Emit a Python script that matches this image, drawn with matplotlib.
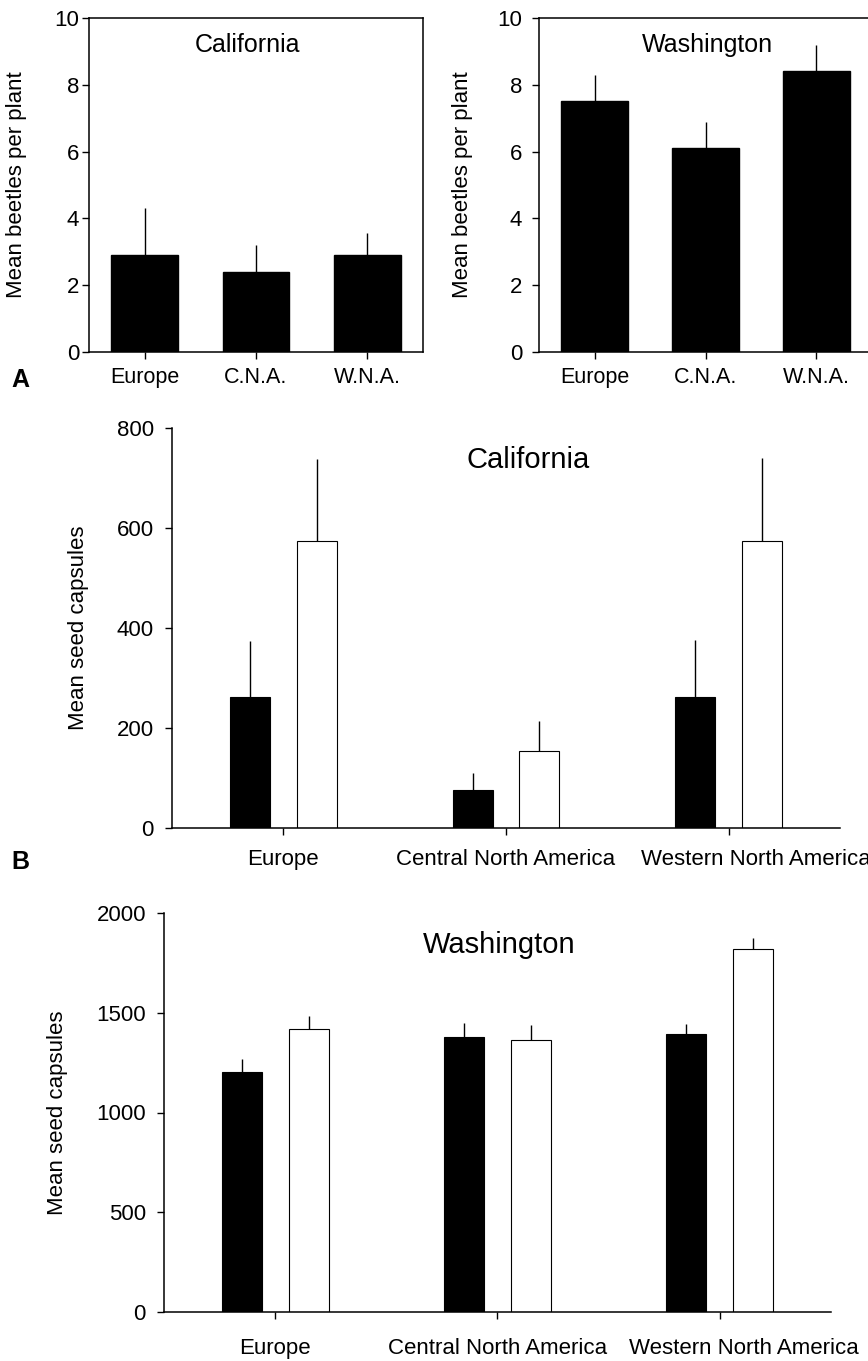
import numpy as np
import matplotlib
matplotlib.use('Agg')
import matplotlib.pyplot as plt
from matplotlib.transforms import ScaledTranslation

plt.rcParams['font.family'] = ['Liberation Sans', 'DejaVu Sans']

# data
short_names = ['Europe', 'C.N.A.', 'W.N.A.']
long_names = ['Europe', 'Central North America', 'Western North America']

beetles_ca = [2.9, 2.4, 2.9]
beetles_ca_se = [1.4, 0.8, 0.65]
beetles_wa = [7.5, 6.1, 8.4]
beetles_wa_se = [0.8, 0.8, 0.8]

seeds_ca_black = [262, 76, 262]
seeds_ca_black_se = [112, 34, 114]
seeds_ca_white = [574, 154, 574]
seeds_ca_white_se = [164, 60, 166]

seeds_wa_black = [1205, 1380, 1395]
seeds_wa_black_se = [65, 70, 50]
seeds_wa_white = [1420, 1365, 1820]
seeds_wa_white_se = [65, 75, 55]

W, H = 868, 1361
fig = plt.figure(figsize=(W / 100, H / 100), dpi=100)


def px_axes(x0, x1, y0, y1):
    return fig.add_axes([x0 / W, 1 - y1 / H, (x1 - x0) / W, (y1 - y0) / H])


def up_err(se):
    return [np.zeros(len(se)), se]


err_kw = dict(ecolor='black', elinewidth=1.0, capsize=0)


def beetle_panel(ax, vals, se, title, title_x, ylab_x, ypad):
    x = np.arange(len(vals))
    ax.bar(x, vals, width=0.6, color='black', edgecolor='black',
           yerr=up_err(se), error_kw=err_kw, zorder=2)
    ax.set_xlim(-0.5, 2.5)
    ax.set_ylim(0, 10)
    ax.set_yticks([0, 2, 4, 6, 8, 10])
    ax.set_xticks(x)
    ax.set_xticklabels(short_names)
    for s in ax.spines.values():
        s.set_linewidth(1.1)
    ax.tick_params(axis='x', length=5, width=1.0, labelsize=15.5, pad=6)
    ax.tick_params(axis='y', length=5, width=1.0, labelsize=16, pad=ypad)
    ax.set_ylabel('Mean beetles per plant', fontsize=16)
    ax.yaxis.set_label_coords(ylab_x, 0.5)
    ax.text(title_x, 0.919, title, transform=ax.transAxes, fontsize=18,
            ha='center', va='center')


def seed_panel(ax, black, black_se, white, white_se, ymax, step, title,
               title_x, ylab_x, xpad, shift_px):
    x = np.arange(len(black))
    ax.bar(x - 0.15, black, width=0.18, color='black', edgecolor='black',
           linewidth=0.8, yerr=up_err(black_se), error_kw=err_kw, zorder=2)
    ax.bar(x + 0.15, white, width=0.18, color='white', edgecolor='black',
           linewidth=0.8, yerr=up_err(white_se), error_kw=err_kw, zorder=2)
    ax.set_xlim(-0.5, 2.5)
    ax.set_ylim(0, ymax)
    ax.set_yticks(np.arange(0, ymax + 1, step))
    ax.set_xticks(x)
    ax.set_xticklabels(long_names)
    ax.spines['top'].set_visible(False)
    ax.spines['right'].set_visible(False)
    for s in ('left', 'bottom'):
        ax.spines[s].set_linewidth(1.1)
    ax.tick_params(axis='x', length=5, width=1.0, labelsize=16, pad=xpad)
    ax.tick_params(axis='y', length=5, width=1.0, labelsize=16, pad=8)
    ax.set_ylabel('Mean seed capsules', fontsize=16)
    ax.yaxis.set_label_coords(ylab_x, 0.5)
    ax.text(title_x, 0.92, title, transform=ax.transAxes, fontsize=21,
            ha='center', va='center')
    # last label sits a bit right of its tick, as in the original
    lab = ax.xaxis.get_major_ticks()[2].label1
    lab.set_transform(lab.get_transform() +
                      ScaledTranslation(shift_px / 100, 0, fig.dpi_scale_trans))


ax1 = px_axes(89, 423, 18, 352)
beetle_panel(ax1, beetles_ca, beetles_ca_se, 'California', 0.476, -0.186, 2)

ax2 = px_axes(539, 872, 18, 352)
beetle_panel(ax2, beetles_wa, beetles_wa_se, 'Washington', 0.505, -0.198, 7)

ax3 = px_axes(172, 840, 428, 828)
seed_panel(ax3, seeds_ca_black, seeds_ca_black_se, seeds_ca_white,
           seeds_ca_white_se, 800, 200, 'California', 0.533, -0.124, 10, 27)

ax4 = px_axes(164, 831, 913, 1312)
seed_panel(ax4, seeds_wa_black, seeds_wa_black_se, seeds_wa_white,
           seeds_wa_white_se, 2000, 500, 'Washington', 0.502, -0.144, 14, 24)

fig.text(20 / W, 1 - 380 / H, 'A', fontsize=18, fontweight='bold',
         ha='center', va='center')
fig.text(20 / W, 1 - 862 / H, 'B', fontsize=18, fontweight='bold',
         ha='center', va='center')

fig.savefig('out.png', dpi=100)
